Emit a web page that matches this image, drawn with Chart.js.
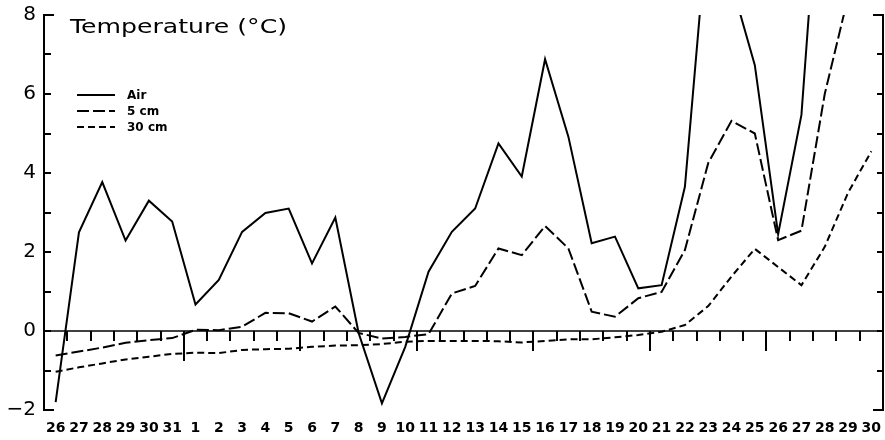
<!DOCTYPE html>
<html><head><meta charset="utf-8">
<script src="https://cdn.jsdelivr.net/npm/chart.js@4/dist/chart.umd.min.js"></script>
<style>html,body{margin:0;padding:0;background:#fff}#wrap{width:885px;height:440px;position:relative}</style>
</head><body><div id="wrap"><canvas id="c"></canvas></div>
<script>
// ---- data ----
const days = ['26','27','28','29','30','31','1','2','3','4','5','6','7','8','9','10','11','12','13','14','15','16','17','18','19','20','21','22','23','24','25','26','27','28','29','30'];
const airTemp = [-1.8,2.5,3.77,2.29,3.3,2.77,0.67,1.29,2.51,2.99,3.1,1.71,2.87,-0.05,-1.83,-0.4,1.5,2.51,3.1,4.75,3.91,6.88,4.92,2.22,2.39,1.08,1.16,3.65,10.5,8.8,6.73,2.45,5.47,13.5,null,null];
const soil5cm = [-0.62,-0.52,-0.42,-0.3,-0.23,-0.18,0.03,0.02,0.11,0.46,0.45,0.24,0.62,-0.05,-0.19,-0.15,-0.08,0.95,1.14,2.09,1.92,2.66,2.09,0.49,0.36,0.83,0.99,2.05,4.25,5.32,5.0,2.3,2.54,6.0,8.45,null];
const soil30cm = [-1.03,-0.92,-0.82,-0.72,-0.65,-0.58,-0.55,-0.56,-0.48,-0.46,-0.45,-0.4,-0.37,-0.36,-0.33,-0.27,-0.25,-0.25,-0.25,-0.26,-0.29,-0.25,-0.21,-0.21,-0.16,-0.1,-0.02,0.15,0.63,1.38,2.08,1.62,1.16,2.13,3.5,4.55];
const seriesNames = ['Air','5 cm','30 cm'];
const chartTitle = 'Temperature (\u00B0C)';
const yMin = -2, yMax = 8;

// ---- plugins ----
const zeroAxis = {
  id: 'zeroAxis',
  beforeDatasetsDraw(chart) {
    const {ctx, chartArea, scales} = chart;
    const y0 = scales.y.getPixelForValue(0);
    ctx.save();
    ctx.strokeStyle = '#000';
    ctx.lineWidth = 1.5;
    ctx.beginPath();
    ctx.moveTo(chartArea.left, y0);
    ctx.lineTo(chartArea.right, y0);
    ctx.stroke();
    ctx.lineWidth = 2;
    const monthStart = days.indexOf('1');
    for (let j = 1; j < days.length; j++) {
      let len = 10;
      if (j === monthStart) len = 30;
      else if (j > monthStart && Number(days[j]) % 5 === 1) len = 20;
      const x = Math.round(scales.x.getPixelForValue(j - 0.5));
      ctx.beginPath();
      ctx.moveTo(x, y0);
      ctx.lineTo(x, y0 + len);
      ctx.stroke();
    }
    ctx.restore();
  }
};

const inwardTicks = {
  id: 'inwardTicks',
  afterDraw(chart) {
    const {ctx, chartArea, scales} = chart;
    ctx.save();
    ctx.strokeStyle = '#000';
    ctx.lineWidth = 2;
    scales.y.ticks.forEach(t => {
      const y = Math.round(scales.y.getPixelForValue(t.value));
      const end = (t.value === yMin || t.value === yMax);
      ctx.beginPath();
      ctx.moveTo(chartArea.left, y);
      ctx.lineTo(chartArea.left + (end ? 10 : 7), y);
      ctx.stroke();
    });
    scales.y2.ticks.forEach(t => {
      const y = Math.round(scales.y2.getPixelForValue(t.value));
      const end = (t.value === yMin || t.value === yMax);
      ctx.beginPath();
      ctx.moveTo(chartArea.right, y);
      ctx.lineTo(chartArea.right - (end ? 10 : 6), y);
      ctx.stroke();
    });
    ctx.restore();
  }
};

const titleLegend = {
  id: 'titleLegend',
  afterDraw(chart) {
    const {ctx} = chart;
    ctx.save();
    ctx.fillStyle = '#000';
    ctx.font = '19px "DejaVu Sans"';
    ctx.textBaseline = 'alphabetic';
    const w = ctx.measureText(chartTitle).width;
    ctx.translate(70, 33);
    ctx.scale(217 / w, 1);
    ctx.fillText(chartTitle, 0, 0);
    ctx.restore();

    ctx.save();
    const ys = [95, 111, 127];
    chart.data.datasets.forEach((ds, i) => {
      ctx.strokeStyle = '#000';
      ctx.lineWidth = 2;
      ctx.setLineDash(ds.borderDash || []);
      ctx.beginPath();
      ctx.moveTo(77, ys[i]);
      ctx.lineTo(115, ys[i]);
      ctx.stroke();
      ctx.setLineDash([]);
      ctx.fillStyle = '#000';
      ctx.font = 'bold 12px "DejaVu Sans"';
      ctx.textBaseline = 'middle';
      ctx.fillText(ds.label, 127, ys[i] + 1);
    });
    ctx.restore();
  }
};

const ds = (label, data, dash) => ({
  label, data, borderColor: '#000', backgroundColor: '#000', borderWidth: 2,
  borderDash: dash, pointRadius: 0, tension: 0, fill: false, spanGaps: false
});

new Chart(document.getElementById('c'), {
  type: 'line',
  data: {
    labels: days,
    datasets: [
      ds(seriesNames[0], airTemp, []),
      ds(seriesNames[1], soil5cm, [12, 4]),
      ds(seriesNames[2], soil30cm, [7, 4])
    ]
  },
  options: {
    responsive: true,
    maintainAspectRatio: false,
    animation: false,
    devicePixelRatio: 1,
    layout: { padding: { top: 15, left: 0, right: 0, bottom: 0 } },
    plugins: { legend: { display: false }, tooltip: { enabled: false }, title: { display: false } },
    scales: {
      x: {
        type: 'category', offset: true, position: 'bottom',
        grid: { display: false, drawTicks: false },
        border: { display: false },
        ticks: { color: '#000', font: { family: 'DejaVu Sans', size: 14, weight: 'bold' }, padding: 10, autoSkip: false, maxRotation: 0 },
        afterFit: s => { s.height = 30; s.paddingLeft = 0; s.paddingRight = 0; }
      },
      y: {
        position: 'left', min: yMin, max: yMax,
        grid: { drawOnChartArea: false, drawTicks: false },
        border: { display: true, color: '#000', width: 2 },
        ticks: {
          stepSize: 1, color: '#000', padding: 8,
          font: { family: 'DejaVu Sans', size: 20 },
          callback: v => (v % 2 === 0 ? (v < 0 ? '\u2212' + Math.abs(v) : String(v)) : '')
        },
        afterFit: s => { s.width = 44; s.paddingTop = 0; s.paddingBottom = 0; }
      },
      y2: {
        position: 'right', min: yMin, max: yMax,
        grid: { drawOnChartArea: false, drawTicks: false },
        border: { display: true, color: '#000', width: 2 },
        ticks: { stepSize: 1, display: false },
        afterFit: s => { s.width = 2; s.paddingTop = 0; s.paddingBottom = 0; }
      }
    }
  },
  plugins: [zeroAxis, inwardTicks, titleLegend]
});
</script>
</body></html>
